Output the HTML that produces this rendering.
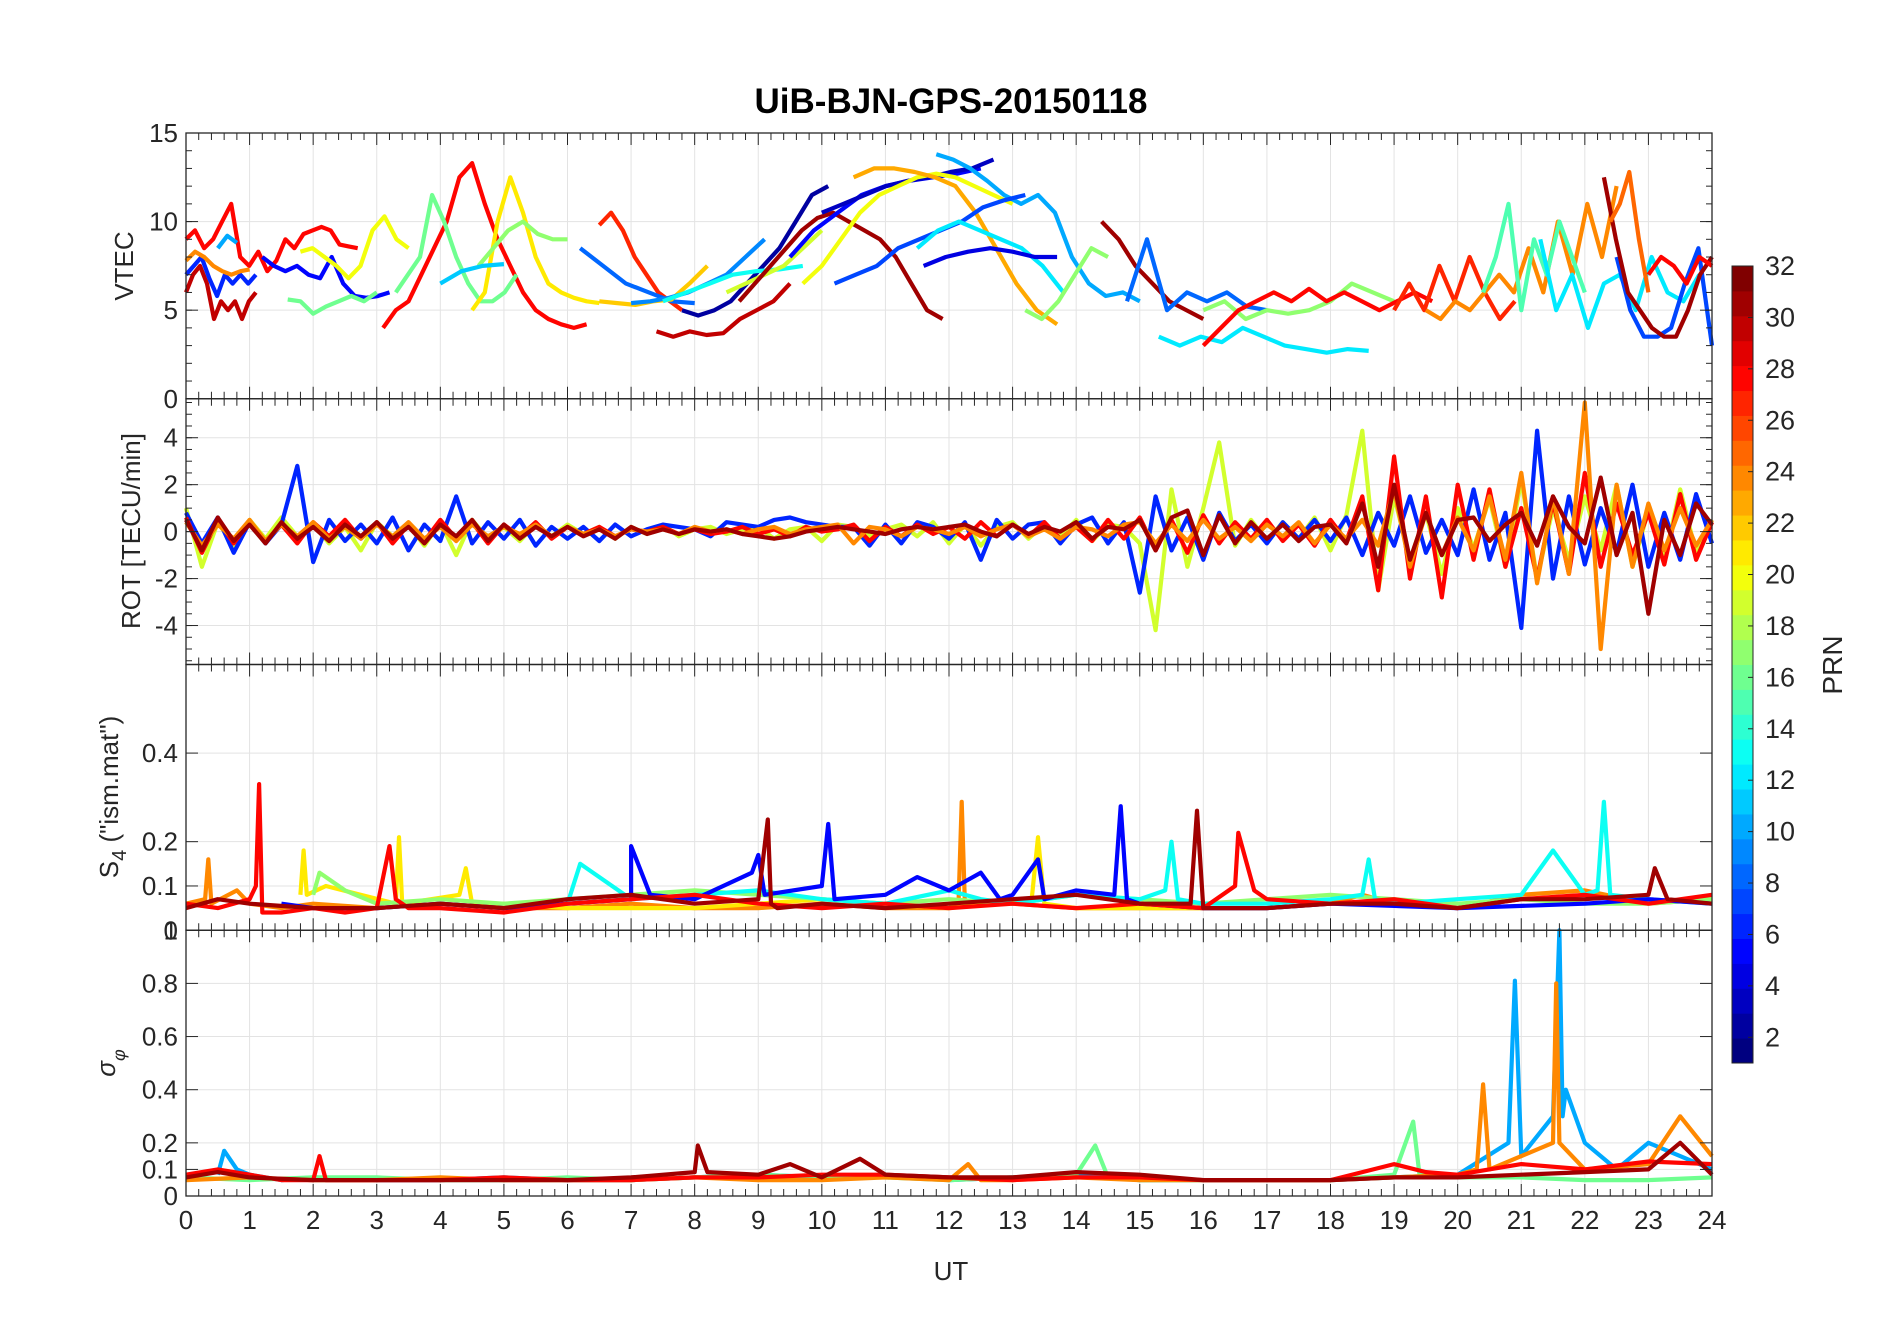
<!DOCTYPE html>
<html><head><meta charset="utf-8"><title>UiB-BJN-GPS-20150118</title>
<style>
html,body{margin:0;padding:0;background:#fff;}
svg text{font-family:"Liberation Sans",Arial,sans-serif;fill:#262626;}
</style></head>
<body>
<svg id="chart" width="1902" height="1330" viewBox="0 0 1902 1330" xmlns="http://www.w3.org/2000/svg">
<rect width="1902" height="1330" fill="#fff"/>
<text x="951" y="113" text-anchor="middle" font-size="35" font-weight="bold" style="fill:#000">UiB-BJN-GPS-20150118</text>
<g id="grids"></g><g id="series"></g><g id="axes"></g><g id="cbar"></g>
<text x="951" y="1280" text-anchor="middle" font-size="26">UT</text>
<text transform="translate(133,266) rotate(-90)" text-anchor="middle" font-size="26">VTEC</text>
<text transform="translate(140,531) rotate(-90)" text-anchor="middle" font-size="26">ROT [TECU/min]</text>
<text transform="translate(118,797) rotate(-90)" text-anchor="middle" font-size="26">S<tspan font-size="20" dy="8">4</tspan><tspan dy="-8"> ("ism.mat")</tspan></text>
<text transform="translate(115,1063) rotate(-90)" text-anchor="middle" font-size="26" font-style="italic">σ<tspan font-size="18" dy="10">φ</tspan></text>
<text transform="translate(1842,665) rotate(-90)" text-anchor="middle" font-size="28">PRN</text>
</svg>
<script>
// ---- data ----
const xTicks=[0,1,2,3,4,5,6,7,8,9,10,11,12,13,14,15,16,17,18,19,20,21,22,23,24];
const vtecTicks=[0,5,10,15];
const rotTicks=[-4,-2,0,2,4];
const s4Ticks=[0,0.1,0.2,0.4];
const sigTicks=[0,0.1,0.2,0.4,0.6,0.8,1];
const cbTicks=[2,4,6,8,10,12,14,16,18,20,22,24,26,28,30,32];
// VTEC series: [prn, startHour, endHour, values]
const vtecSeries=[
[30,0,1.1,[6,7,7.5,6.5,4.5,5.5,5,5.5,4.5,5.5,6]],
[28,0,2.7,[9,9.5,8.5,9,10,11,8,7.5,8.3,7.2,7.8,9,8.5,9.3,9.5,9.7,9.5,8.7,8.6,8.5]],
[6,0,1.1,[7,7.5,8,6.8,5.8,7,6.5,7,6.5,7]],
[10,0.5,0.8,[8.5,9.2,8.8]],
[24,0,1,[7.8,8.3,8,7.5,7.2,7,7.2,7.3]],
[5,1.2,3.2,[8,7.5,7.2,7.5,7,6.8,8,6.5,5.8,5.7,5.8,6]],
[16,1.6,3,[5.6,5.5,4.8,5.2,5.5,5.8,5.5,6]],
[20,1.8,3.5,[8.3,8.5,8,7.5,6.8,7.5,9.5,10.3,9,8.5]],
[28,3.1,6.3,[4,5,5.5,7,8.5,10,12.5,13.3,11,9,7.5,6,5,4.5,4.2,4,4.2]],
[16,3.3,5.2,[6,7,8,11.5,10,8,6.5,5.5,5.5,6,7]],
[21,4.5,6.5,[5,6,10,12.5,10.5,8,6.5,6,5.7,5.5,5.4]],
[17,4.6,6,[7.5,8.5,9.5,10,9.3,9,9]],
[11,4,5,[6.5,7.2,7.5,7.6]],
[27,6.5,7.8,[9.8,10.5,9.5,8,7,6,5.5,5]],
[8,6.2,8,[8.5,7.5,6.5,6,5.5,5.4]],
[22,6.5,8.2,[5.5,5.4,5.3,5.5,5.6,6.5,7.5]],
[30,7.4,9.5,[3.8,3.5,3.8,3.6,3.7,4.5,5,5.5,6.5]],
[2,7.8,10.1,[5,4.7,5,5.5,6.5,7.5,8.5,10,11.5,12]],
[9,7,9.1,[5.4,5.5,5.7,6,6.5,7,8,9]],
[13,7.5,9.7,[5.5,6,6.5,7,7.2,7.3,7.5]],
[19,8.5,10,[6,6.5,7,7.5,8.5,9.5]],
[31,8.7,11.9,[5.5,6.5,7.5,8.5,9.5,10.2,10.5,10,9.5,9,8,6.5,5,4.5]],
[5,9.5,12.5,[8,9.5,10.5,11.5,12,12.3,12.5,12.7,13]],
[3,10,12.7,[10.5,11,11.5,12,12.3,12.5,12.8,13,13.5]],
[20,9.7,13,[6.5,7.5,9,10.5,11.5,12,12.5,12.7,12.5,12,11.5,11]],
[23,10.5,13.7,[12.5,13,13,12.8,12.5,12,10.5,8.5,6.5,5,4.2]],
[10,11.8,15,[13.8,13.5,13,12.3,11.5,11,11.5,10.5,8,6.5,5.8,6,5.5]],
[7,10.2,13.2,[6.5,7,7.5,8.5,9,9.5,10,10.8,11.2,11.5]],
[12,11.5,13.8,[8.5,9.5,10,9.5,9,8.5,7.5,6]],
[4,11.6,13.7,[7.5,8,8.3,8.5,8.3,8,8]],
[17,13.2,14.5,[5,4.5,5.5,7,8.5,8]],
[31,14.4,16,[10,9,7.5,6.5,5.5,5,4.5]],
[8,14.8,17,[5.5,9,5,6,5.5,6,5.2,5]],
[12,15.3,18.6,[3.5,3,3.5,3.2,4,3.5,3,2.8,2.6,2.8,2.7]],
[17,16,19,[5,5.5,4.5,5,4.8,5,5.5,6.5,6,5.5]],
[28,16,19.6,[3,4,5,5.5,6,5.5,6.2,5.5,6,5.5,5,5.5,6,5.5]],
[27,19,20.9,[5,6.5,5,7.5,5.5,8,6,4.5,5.5]],
[24,19.5,22.5,[5,4.5,5.5,5,6,7,6,8.5,6,10,7,11,8,12]],
[15,20.4,22,[6,8,11,5,9,7,10,8,6]],
[12,21.3,23.8,[9,5,7,4,6.5,7,5,8,6,5.5,7]],
[7,22.5,24,[8,5,3.5,3.5,4,6.5,8.5,3]],
[31,22.3,24,[12.5,9,6,5,4,3.5,3.5,5,7,8]],
[25,22.4,23,[10,11,12.8,9,6]],
[28,23,24,[7,8,7.5,6.5,8,7.5]]
];
// ROT series: [prn, start, end, values]
const rotSeries=[
[19,0,24,[1,-1.5,0.4,-0.6,0.5,-0.3,0.6,-0.2,0.3,-0.5,0.2,-0.8,0.4,-0.2,0.3,-0.6,0.4,-1,0.5,-0.3,0.2,-0.4,0.3,-0.2,0.3,-0.1,0.2,-0.3,0.2,-0.1,0.3,-0.2,0.1,0.2,-0.1,0.1,0.2,-0.3,0.1,0.2,-0.4,0.3,0.2,-0.2,0.1,0.3,-0.2,0.4,-0.5,0.3,-0.6,0.2,0.4,-0.3,0.3,-0.2,0.5,-0.4,0.3,0.2,-0.5,-4.2,1.8,-1.5,1,3.8,-0.6,0.5,-0.4,0.4,-0.3,0.6,-0.8,0.7,4.3,-2.5,1.5,-1.2,0.8,-1.8,1,-0.7,1.4,-1.5,2.2,-2,1,-1.2,1.5,-0.8,2,-1.5,0.9,-1.2,1.8,-0.9,0.5]],
[6,0,24,[0.8,-0.5,0.6,-0.9,0.4,-0.5,0.3,2.8,-1.3,0.5,-0.4,0.3,-0.5,0.6,-0.8,0.3,-0.4,1.5,-0.5,0.4,-0.3,0.5,-0.6,0.2,-0.3,0.2,-0.4,0.3,-0.2,0.1,0.3,0.2,0.1,-0.2,0.4,0.3,0.2,0.5,0.6,0.4,0.3,0.2,0.2,-0.6,0.3,-0.5,0.4,0.2,-0.3,0.4,-1.2,0.5,-0.3,0.3,0.4,-0.5,0.3,0.6,-0.5,0.4,-2.6,1.5,-0.8,0.6,-1.2,0.8,-0.4,0.3,-0.5,0.4,-0.3,0.5,-0.4,0.6,-1,0.8,-0.6,1.5,-0.9,0.5,-1,1.8,-1.2,0.8,-4.1,4.3,-2,1.5,-1.4,1,-0.9,2,-1.5,0.8,-1.2,1.6,-0.5]],
[28,0,24,[0.6,-0.9,0.5,-0.5,0.4,-0.4,0.3,-0.5,0.4,-0.2,0.5,-0.3,0.4,-0.5,0.3,-0.4,0.5,-0.3,0.4,-0.5,0.3,-0.2,0.4,-0.3,0.2,-0.1,0.2,-0.2,0.1,0,0.2,-0.1,0.1,-0.1,0,0.2,-0.1,0.1,-0.2,0.2,0,0.1,0.3,-0.4,0.2,-0.2,0.3,-0.1,0.2,-0.3,0.4,-0.2,0.3,-0.2,0.4,-0.3,0.2,-0.4,0.5,-0.3,0.6,-0.8,0.5,-0.9,0.7,-0.5,0.4,-0.3,0.5,-0.4,0.3,-0.6,0.5,-0.4,1.5,-2.5,3.2,-2,1.5,-2.8,2,-1.2,1.8,-1.5,1,-2,1.3,-1.8,2.5,-1.5,1.2,-1,0.8,-1.4,1.6,-1.2,0.4]],
[24,0,24,[0.4,-0.6,0.3,-0.3,0.5,-0.4,0.3,-0.2,0.4,-0.3,0.2,-0.3,0.3,-0.2,0.4,-0.3,0.2,-0.4,0.3,-0.2,0.2,-0.1,0.3,-0.2,0.2,-0.1,0.1,-0.2,0.1,0,0.1,-0.1,0.2,0,0.1,-0.1,0.1,0.2,-0.1,0.1,0.2,0.3,-0.5,0.2,0.1,-0.2,0.2,0.1,-0.1,0.2,-0.2,0.1,0.3,-0.2,0.1,-0.3,0.2,0.1,-0.2,0.3,0.4,-0.5,0.3,-0.4,0.5,-0.3,0.2,-0.4,0.3,-0.2,0.4,-0.5,0.3,-0.3,0.5,-0.6,1.8,-1.5,0.8,-1,0.6,-0.8,1.5,-1.2,2.5,-2.2,1.5,-1.8,5.5,-5,2,-1.5,1.2,-0.8,1,-0.6,0.5]],
[31,0,24,[0.5,-0.8,0.6,-0.4,0.3,-0.5,0.4,-0.3,0.2,-0.4,0.3,-0.2,0.4,-0.3,0.2,-0.5,0.3,-0.2,0.5,-0.4,0.3,-0.3,0.2,-0.2,0.2,-0.2,0.1,-0.3,0.2,-0.1,0.1,-0.1,0.1,0,0.1,-0.1,-0.2,-0.3,-0.2,0,0.1,0.2,0.1,0,-0.1,0.1,0.2,0.1,0.2,0.3,0,-0.2,0.3,-0.1,0.2,0,0.4,-0.3,0.2,0.1,0.5,-0.8,0.6,0.9,-1,0.7,-0.5,0.4,-0.3,0.3,-0.4,0.2,0.3,-0.5,1.2,-1.5,2,-1.2,0.8,-1,0.5,0.6,-0.4,0.3,0.8,-0.6,1.5,0.2,-0.5,2.3,-1,0.8,-3.5,0.5,-1,1.2,0.3]]
];
// S4 series: [prn, times, values]
const s4Series=[
[24,[0,0.3,0.35,0.4,0.8,1,1.5,2,3,4,5,6,7,8,9,10,11,12,12.15,12.2,12.25,13,14,15,16,17,18,18.5,19,20,21,22,23,24],[0.06,0.07,0.16,0.06,0.09,0.06,0.05,0.06,0.05,0.06,0.05,0.05,0.06,0.05,0.05,0.06,0.05,0.05,0.06,0.29,0.06,0.06,0.05,0.05,0.05,0.05,0.06,0.08,0.06,0.05,0.08,0.09,0.06,0.07]],
[21,[1.8,1.85,1.9,2.2,3.3,3.35,3.4,4.3,4.4,4.5,5,6,7,8,9,10,11,12,13.3,13.4,13.5,14,15,16,17],[0.08,0.18,0.08,0.1,0.06,0.21,0.06,0.08,0.14,0.06,0.06,0.05,0.05,0.05,0.06,0.07,0.06,0.05,0.07,0.21,0.06,0.05,0.05,0.05,0.05]],
[17,[2,2.1,2.5,3,4,5,6,7,8,9,10,11,12,13,14,15,16,17,18,19,20,21,22,23,24],[0.08,0.13,0.09,0.06,0.07,0.06,0.07,0.08,0.09,0.08,0.07,0.06,0.07,0.06,0.08,0.07,0.06,0.07,0.08,0.07,0.06,0.07,0.06,0.06,0.07]],
[13,[6,6.2,7,8,9,10,11,12,12.5,13,14,15,15.4,15.5,15.6,16,17,18,18.5,18.6,18.7,19,20,21,21.5,22,22.2,22.3,22.4,23,24],[0.06,0.15,0.07,0.08,0.09,0.07,0.06,0.09,0.07,0.06,0.08,0.07,0.09,0.2,0.07,0.06,0.06,0.07,0.08,0.16,0.07,0.06,0.07,0.08,0.18,0.08,0.09,0.29,0.08,0.07,0.06]],
[5,[1.5,2,3,4,5,6,7,7,7.3,8,8.9,9,9.1,10,10.1,10.2,11,11.5,12,12.5,12.8,13,13.4,13.5,14,14.6,14.7,14.8,15,16,17,18,20,22,23,24],[0.06,0.05,0.05,0.06,0.05,0.06,0.07,0.19,0.08,0.07,0.13,0.17,0.08,0.1,0.24,0.07,0.08,0.12,0.09,0.13,0.07,0.08,0.16,0.07,0.09,0.08,0.28,0.07,0.06,0.05,0.05,0.06,0.05,0.06,0.07,0.06]],
[28,[0,0.5,1,1.1,1.15,1.2,1.5,2,2.5,3,3.2,3.3,3.5,4,5,6,7,8,9,10,11,12,13,14,15,16,16.5,16.55,16.8,17,18,19,20,21,22,23,24],[0.06,0.05,0.07,0.1,0.33,0.04,0.04,0.05,0.04,0.05,0.19,0.07,0.05,0.05,0.04,0.06,0.07,0.08,0.06,0.05,0.06,0.05,0.06,0.05,0.06,0.05,0.1,0.22,0.09,0.07,0.06,0.07,0.05,0.07,0.08,0.06,0.08]],
[31,[0,0.5,1,2,3,4,5,6,7,8,9,9.15,9.2,9.3,10,11,12,13,14,15,15.8,15.9,16,17,18,19,20,21,22,23,23.1,23.3,24],[0.05,0.07,0.06,0.05,0.05,0.06,0.05,0.07,0.08,0.06,0.07,0.25,0.06,0.05,0.06,0.05,0.06,0.07,0.08,0.06,0.06,0.27,0.05,0.05,0.06,0.06,0.05,0.07,0.07,0.08,0.14,0.07,0.06]]
];
// sigma phi series: [prn, times, values]
const sigSeries=[
[10,[0.5,0.6,0.8,1,1.5,2,3,4,5,6,7,8,9,10,11,12,13,14,15,16,17,18,19,20,20.8,20.9,21,21.5,21.6,21.65,21.7,22,22.5,23,24],[0.08,0.17,0.1,0.08,0.06,0.07,0.06,0.06,0.07,0.06,0.06,0.07,0.08,0.07,0.08,0.06,0.07,0.08,0.06,0.06,0.06,0.06,0.07,0.08,0.2,0.81,0.15,0.3,1,0.3,0.4,0.2,0.1,0.2,0.1]],
[16,[0,1,2,3,4,5,6,7,8,9,10,11,12,13,14,14.3,14.5,15,16,17,18,19,19.3,19.4,20,21,22,23,24],[0.07,0.06,0.07,0.07,0.06,0.06,0.07,0.06,0.07,0.08,0.07,0.07,0.06,0.07,0.08,0.19,0.07,0.06,0.06,0.06,0.06,0.08,0.28,0.08,0.07,0.07,0.06,0.06,0.07]],
[24,[0,1,2,3,4,5,6,7,8,9,10,11,12,12.3,12.5,13,14,15,16,17,18,19,20,20.3,20.4,20.5,21,21.5,21.55,21.6,22,23,23.5,24],[0.06,0.07,0.06,0.06,0.07,0.06,0.06,0.06,0.07,0.06,0.06,0.07,0.06,0.12,0.06,0.06,0.07,0.06,0.06,0.06,0.06,0.07,0.08,0.1,0.42,0.1,0.15,0.2,0.8,0.2,0.1,0.12,0.3,0.15]],
[28,[0,0.5,1,1.5,2,2.1,2.2,3,4,5,6,7,8,9,10,11,12,13,14,15,16,17,18,19,19.5,20,21,22,23,24],[0.08,0.1,0.08,0.06,0.06,0.15,0.06,0.06,0.06,0.07,0.06,0.06,0.07,0.07,0.08,0.08,0.07,0.06,0.07,0.07,0.06,0.06,0.06,0.12,0.09,0.08,0.12,0.1,0.13,0.12]],
[31,[0,0.5,1,2,3,4,5,6,7,8,8.05,8.2,9,9.5,10,10.6,11,12,13,14,15,16,17,18,19,20,21,22,23,23.5,24],[0.07,0.09,0.07,0.06,0.06,0.06,0.06,0.06,0.07,0.09,0.19,0.09,0.08,0.12,0.07,0.14,0.08,0.07,0.07,0.09,0.08,0.06,0.06,0.06,0.07,0.07,0.08,0.09,0.1,0.2,0.08]]
];
// ---- layout ----
const NS='http://www.w3.org/2000/svg';
const L=186,R=1712,T0=133,B=1196,PH=(B-T0)/4;
const panels=[
 {name:'vtec',min:0,max:15,ticks:vtecTicks,minor:1},
 {name:'rot',min:-5.66,max:5.66,ticks:rotTicks,minor:0.5},
 {name:'s4',min:0,max:0.6,ticks:s4Ticks,minor:null},
 {name:'sigma',min:0,max:1,ticks:sigTicks,minor:null}
];
function xs(t){return L+(t/24)*(R-L);}
function ysF(i){const p=panels[i],top=T0+i*PH,bot=top+PH;return v=>bot-(v-p.min)/(p.max-p.min)*PH;}
function jet(prn){const x=(prn-1)/31;const f=v=>Math.round(255*Math.max(0,Math.min(1,v)));
 return `rgb(${f(1.5-Math.abs(4*x-3))},${f(1.5-Math.abs(4*x-2))},${f(1.5-Math.abs(4*x-1))})`;}
function mk(tag,attrs,parent){const e=document.createElementNS(NS,tag);for(const k in attrs)e.setAttribute(k,attrs[k]);parent.appendChild(e);return e;}
const grids=document.getElementById('grids'),ser=document.getElementById('series'),axes=document.getElementById('axes'),cb=document.getElementById('cbar');
panels.forEach((p,i)=>{
 const top=T0+i*PH,bot=top+PH,ys=ysF(i);
 xTicks.forEach(t=>{const g=mk('line',{x1:xs(t),x2:xs(t),y1:top,y2:bot,stroke:'#e3e3e3','stroke-width':1},grids);
  
  });
 p.ticks.forEach(v=>{const g=mk('line',{x1:L,x2:R,y1:ys(v),y2:ys(v),stroke:'#e3e3e3','stroke-width':1},grids);
  
  
  const tk=mk('line',{x1:L,x2:L+12,y1:ys(v),y2:ys(v),stroke:'#262626','stroke-width':1},axes);
  
  
  const tk2=mk('line',{x1:R,x2:R-12,y1:ys(v),y2:ys(v),stroke:'#262626','stroke-width':1},axes);
  
  
  const lb=mk('text',{x:L-8,y:ys(v)+9,'text-anchor':'end','font-size':26},axes);lb.textContent=String(v);
  
  });
 if(p.minor){for(let v=Math.ceil(p.min/p.minor)*p.minor;v<=p.max;v+=p.minor){
  const m=mk('line',{x1:L,x2:L+6,y1:ys(v),y2:ys(v),stroke:'#262626','stroke-width':1},axes);
  
  
  const m2=mk('line',{x1:R,x2:R-6,y1:ys(v),y2:ys(v),stroke:'#262626','stroke-width':1},axes);
  
  }}
 for(let k=0;k<=120;k++){const t=k*0.2,len=(k%5===0)?12:7;
  const a=mk('line',{x1:xs(t),x2:xs(t),y1:top,y2:top+len,stroke:'#262626','stroke-width':1},axes);
  
  
  const b=mk('line',{x1:xs(t),x2:xs(t),y1:bot,y2:bot-len,stroke:'#262626','stroke-width':1},axes);
  
  }
 const box=mk('rect',{x:L,y:top,width:R-L,height:PH,fill:'none',stroke:'#262626','stroke-width':1.3},axes);
 
 
});
xTicks.forEach(t=>{const lb=mk('text',{x:xs(t),y:B+33,'text-anchor':'middle','font-size':26},axes);lb.textContent=String(t);
 
 });
function drawLine(i,prn,pts,nm){const ys=ysF(i);
 const d=pts.map((q,k)=>(k?'L':'M')+xs(q[0]).toFixed(1)+','+ys(q[1]).toFixed(1)).join('');
 const e=mk('path',{d:d,fill:'none',stroke:jet(prn),'stroke-width':4.2,'stroke-linejoin':'round'},ser);
 
 }
function even(s,e,v){return v.map((y,k)=>[s+(e-s)*k/(v.length-1),y]);}
vtecSeries.forEach(s=>drawLine(0,s[0],even(s[1],s[2],s[3]),'vtec-line'));
rotSeries.forEach(s=>drawLine(1,s[0],even(s[1],s[2],s[3]),'rot-line'));
s4Series.forEach(s=>drawLine(2,s[0],s[1].map((t,k)=>[t,s[2][k]]),'s4-line'));
sigSeries.forEach(s=>drawLine(3,s[0],s[1].map((t,k)=>[t,s[2][k]]),'sigma-line'));
// colorbar
const CT=266,CB=1063,CX=1732,CW=21;
for(let k=1;k<=32;k++){const h=(CB-CT)/32;const r=mk('rect',{x:CX,y:CB-k*h,width:CW,height:h+0.5,fill:jet(k)},cb);
 
 }
const fr=mk('rect',{x:CX,y:CT,width:CW,height:CB-CT,fill:'none',stroke:'#262626','stroke-width':1},cb);


cbTicks.forEach(v=>{const y=CB-(v-1)/31*(CB-CT);
 const tk=mk('line',{x1:CX+CW-5,x2:CX+CW,y1:y,y2:y,stroke:'#262626'},cb);
 
 
 const lb=mk('text',{x:CX+CW+12,y:y+9,'font-size':27},cb);lb.textContent=String(v);
 
 });
</script>
</body></html>
